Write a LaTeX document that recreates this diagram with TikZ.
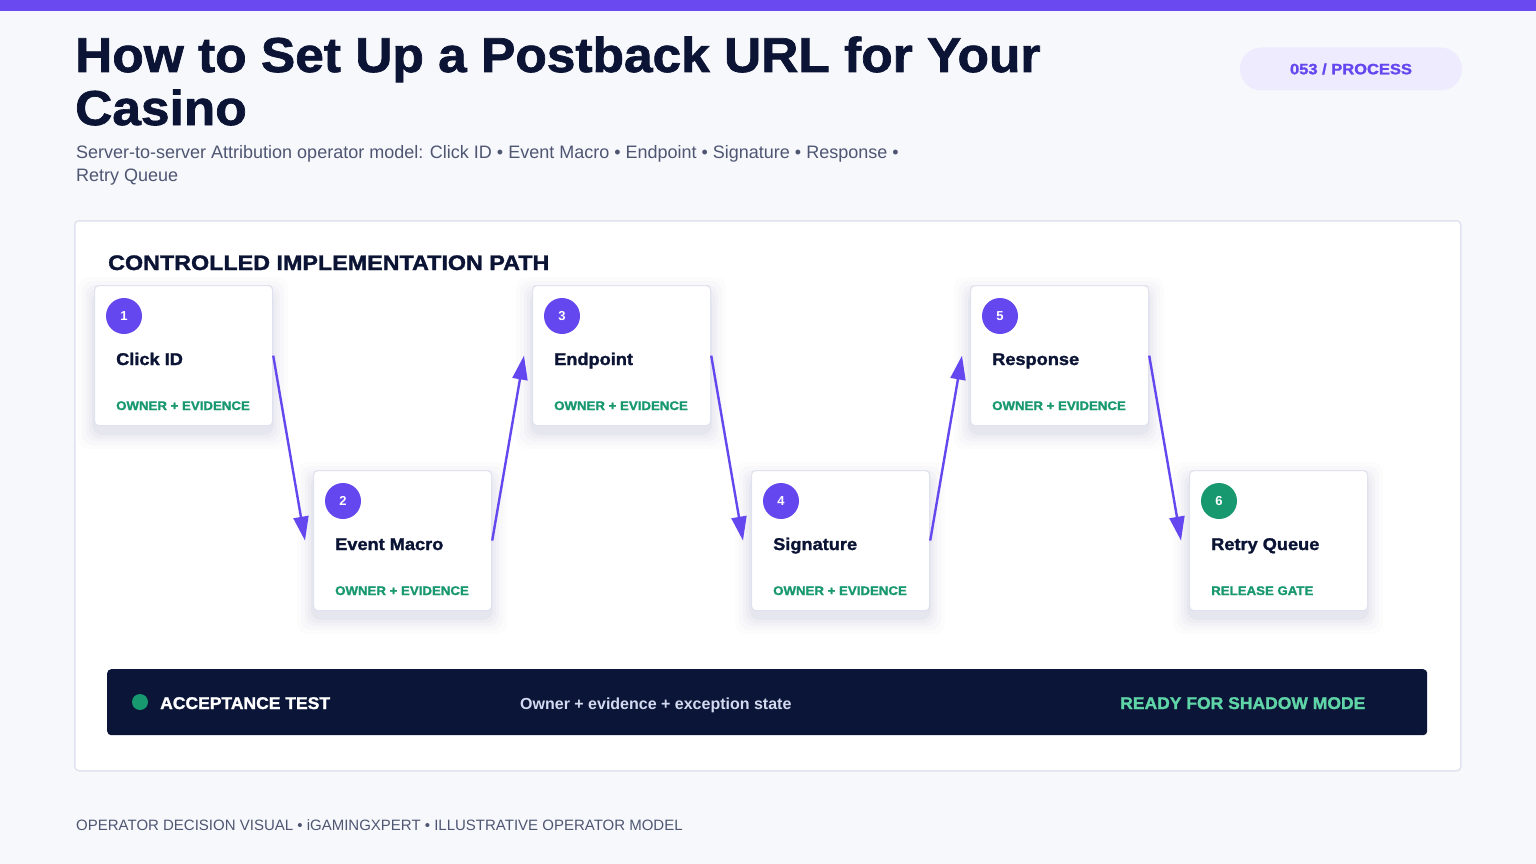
\documentclass[tikz,border=0pt]{standalone}
\usepackage{fontspec}
\setmainfont{Liberation Sans}
\newfontfamily\heavy[UprightFont=* Bold, FakeBold=1.4]{Liberation Sans}
\usetikzlibrary{arrows.meta,calc}
\definecolor{bg}{HTML}{F7F8FC}
\definecolor{topbar}{HTML}{6A4AF0}
\definecolor{ink}{HTML}{0B1434}
\definecolor{subgray}{HTML}{4E5672}
\definecolor{pill}{HTML}{EEEBFE}
\definecolor{purp}{HTML}{6547EF}
\definecolor{border}{HTML}{E0E3EF}
\definecolor{grn}{HTML}{18986F}
\definecolor{navy}{HTML}{0B1538}
\definecolor{lightgrn}{HTML}{5FD4A7}
\definecolor{paletxt}{HTML}{D3DAF0}
\tikzset{
  card/.style={draw=border, line width=1.2pt, fill=white, rounded corners=4pt, minimum width=178pt, minimum height=140pt, inner sep=0pt},
  numdot/.style={circle, fill=purp, minimum size=36pt, inner sep=0pt, text=white, font=\fontsize{13}{13}\selectfont\bfseries},
  cardtitle/.style={anchor=base west, inner sep=0pt, text=ink, font=\fontsize{17}{17}\selectfont\heavy},
  cardtag/.style={anchor=base west, inner sep=0pt, text=grn, font=\fontsize{12.5}{12.5}\selectfont\heavy},
  flow/.style={draw=purp, line width=2.4pt, -{Triangle[length=24pt,width=15pt]}, shorten >=0pt},
}
\newcommand{\shadowcard}[2]{%
  \foreach \k/\o in {16/0.01,12/0.014,8/0.018,5/0.022,2/0.028}{
    \fill[black!60!blue, opacity=\o, rounded corners=10pt] ($(#1)+(-\k,-\k+8)$) rectangle ($(#1)+(178+\k,140+\k+8)$);
  }
}
\newcommand{\xw}[2]{\scalebox{#1}[1]{#2}}
\begin{document}
\begin{tikzpicture}[x=1pt,y=-1pt]
\useasboundingbox (0,0) rectangle (1536,864);
\fill[bg] (0,0) rectangle (1536,864);
\fill[topbar] (0,0) rectangle (1536,11);
% title
\node[anchor=base west, inner sep=0pt, text=ink, font=\fontsize{49}{49}\selectfont\heavy] (t1) at (75,72) {\xw{1.05}{How to Set Up a Postback URL for Your}};
\node[anchor=base west, inner sep=0pt, text=ink, font=\fontsize{49}{49}\selectfont\heavy] (t2) at (75,125) {\xw{1.05}{Casino}};
\node[anchor=base west, inner sep=0pt, text=subgray, font=\fontsize{18}{18}\selectfont] (s1) at (76,158) {Server-to-server Attribution operator model: Click ID • Event Macro • Endpoint • Signature • Response •};
\node[anchor=base west, inner sep=0pt, text=subgray, font=\fontsize{18}{18}\selectfont] (s2) at (76,181) {Retry Queue};
% pill
\node[fill=pill, rounded corners=21.5pt, minimum width=222pt, minimum height=43pt, inner sep=0pt, text=purp, font=\fontsize{15}{15}\selectfont\heavy] (pill) at (1351,69) {\xw{1.1}{053 / PROCESS}};
% panel
\node[draw=border, line width=1.5pt, fill=white, rounded corners=4pt, minimum width=1386pt, minimum height=550pt, anchor=north west, inner sep=0pt] (panel) at (74,220) {};
\node[anchor=base west, inner sep=0pt, text=ink, font=\fontsize{21}{21}\selectfont\heavy] (head) at (108,270) {\xw{1.11}{CONTROLLED IMPLEMENTATION PATH}};
% cards
\foreach \i/\x/\y in {1/94/285,2/313/470,3/532/285,4/751/470,5/970/285,6/1189/470}{
  \coordinate (o\i) at (\x,\y);
  \shadowcard{o\i}{}
}
\foreach \i/\x/\y/\t/\g in {1/94/285/Click ID/OWNER + EVIDENCE,2/313/470/Event Macro/OWNER + EVIDENCE,3/532/285/Endpoint/OWNER + EVIDENCE,4/751/470/Signature/OWNER + EVIDENCE,5/970/285/Response/OWNER + EVIDENCE,6/1189/470/Retry Queue/RELEASE GATE}{
  \node[card, anchor=north west] (c\i) at (\x,\y) {};
  \node[cardtitle] (ct\i) at (\x+22,\y+80) {\xw{1.07}{\t}};
  \node[cardtag] (cg\i) at (\x+22,\y+125) {\xw{1.06}{\g}};
}
\foreach \i/\x/\y in {1/94/285,2/313/470,3/532/285,4/751/470,5/970/285}{
  \node[numdot] (n\i) at (\x+30,\y+31) {\i};
}
\node[numdot, fill=grn] (n6) at (1189+30,470+31) {6};
% arrows
\foreach \a/\b in {1/2,2/3,3/4,4/5,5/6}{
  \draw[flow] (c\a.east) -- ([xshift=-8pt]c\b.west);
}
% bottom bar
\node[fill=navy, rounded corners=4pt, minimum width=1320pt, minimum height=66pt, anchor=north west, inner sep=0pt] (bar) at (107,669) {};
\node[circle, fill=grn, minimum size=16pt, inner sep=0pt] (dot) at (140,702) {};
\node[anchor=base west, inner sep=0pt, text=white, font=\fontsize{17}{17}\selectfont\heavy] (acc) at (160,709) {\xw{1.03}{ACCEPTANCE TEST}};
\node[anchor=base west, inner sep=0pt, text=paletxt, font=\fontsize{16}{16}\selectfont\bfseries] (own) at (520,709) {Owner + evidence + exception state};
\node[anchor=base west, inner sep=0pt, text=lightgrn, font=\fontsize{17}{17}\selectfont\heavy] (rdy) at (1120,709) {\xw{1.03}{READY FOR SHADOW MODE}};
% footer
\node[anchor=base west, inner sep=0pt, text=subgray, font=\fontsize{15}{15}\selectfont] (foot) at (76,830) {OPERATOR DECISION VISUAL • iGAMINGXPERT • ILLUSTRATIVE OPERATOR MODEL};
\end{tikzpicture}
\end{document}
